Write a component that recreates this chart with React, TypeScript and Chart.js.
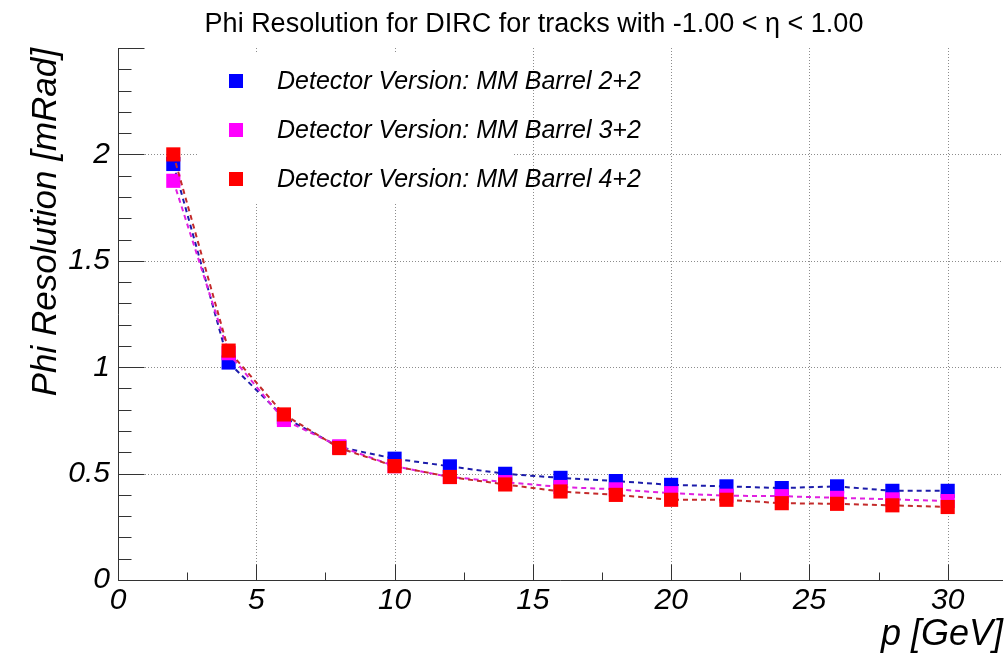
import React, { useEffect, useRef } from 'react';
import { Chart, registerables } from 'chart.js';

Chart.register(...registerables);

const TITLE = 'Phi Resolution for DIRC for tracks with -1.00 < η < 1.00';
const X_TITLE = 'p [GeV]';
const Y_TITLE = 'Phi Resolution [mRad]';

const momenta = [2, 4, 6, 8, 10, 12, 14, 16, 18, 20, 22, 24, 26, 28, 30];
const resBarrel22 = [1.955, 1.022, 0.765, 0.625, 0.57, 0.534, 0.499, 0.48, 0.465, 0.447, 0.44, 0.432, 0.44, 0.419, 0.419];
const resBarrel32 = [1.876, 1.066, 0.752, 0.628, 0.535, 0.484, 0.46, 0.437, 0.426, 0.408, 0.396, 0.394, 0.386, 0.379, 0.371];
const resBarrel42 = [2.0, 1.078, 0.778, 0.62, 0.535, 0.484, 0.449, 0.416, 0.4, 0.377, 0.377, 0.361, 0.358, 0.351, 0.343];

const seriesLabels = [
  'Detector Version: MM Barrel 2+2',
  'Detector Version: MM Barrel 3+2',
  'Detector Version: MM Barrel 4+2',
];
const seriesValues = [resBarrel22, resBarrel32, resBarrel42];

const xMajorTicks = [0, 5, 10, 15, 20, 25, 30];
const yMajorTicks = [0, 0.5, 1, 1.5, 2];

const X_MIN = 0;
const X_MAX = 32;
const Y_MIN = 0;
const Y_MAX = 2.5;

const markerColors = ['#0000ff', '#ff00ff', '#ff0000'];
const lineColors = ['#1c1caa', '#e020e0', '#c42a2a'];

const FONT = 'Liberation Sans, Arial, Helvetica, sans-serif';

const rootFrame = {
  id: 'rootFrame',
  beforeDatasetsDraw(chart: any) {
    const { ctx, chartArea: a, scales } = chart;
    const x = scales.x;
    const y = scales.y;
    ctx.save();
    // dotted grid
    ctx.strokeStyle = '#8c8c8c';
    ctx.lineWidth = 1;
    ctx.setLineDash([1, 2]);
    ctx.beginPath();
    xMajorTicks.forEach((v) => {
      if (v === X_MIN) return;
      const px = Math.round(x.getPixelForValue(v)) + 0.5;
      ctx.moveTo(px, a.top);
      ctx.lineTo(px, a.bottom);
    });
    yMajorTicks.forEach((v) => {
      if (v === Y_MIN) return;
      const py = Math.round(y.getPixelForValue(v)) + 0.5;
      ctx.moveTo(a.left, py);
      ctx.lineTo(a.right, py);
    });
    ctx.stroke();
    ctx.setLineDash([]);

    // axis lines and tick marks
    ctx.strokeStyle = '#333333';
    ctx.lineWidth = 1;
    ctx.beginPath();
    const left = Math.round(a.left) + 0.5;
    const bottom = Math.round(a.bottom) + 0.5;
    ctx.moveTo(left, a.top);
    ctx.lineTo(left, bottom);
    ctx.lineTo(a.right, bottom);
    // y ticks: major every 0.5, minor every 0.1
    for (let i = 0; i <= 25; i++) {
      const v = i / 10;
      if (v > Y_MAX) break;
      const py = Math.round(y.getPixelForValue(v)) + 0.5;
      const len = i % 5 === 0 ? 26 : 13;
      ctx.moveTo(left, py);
      ctx.lineTo(left + len, py);
    }
    // x ticks: major every 5, minor every 2.5
    for (let i = 0; i * 2.5 <= X_MAX; i++) {
      const v = i * 2.5;
      const px = Math.round(x.getPixelForValue(v)) + 0.5;
      const len = i % 2 === 0 ? 16 : 8;
      ctx.moveTo(px, bottom);
      ctx.lineTo(px, bottom - len);
    }
    ctx.stroke();

    // legend box
    ctx.fillStyle = '#ffffff';
    ctx.fillRect(197, 53, 315, 150);
    const rows = [81, 130, 179];
    ctx.font = `italic 25px ${FONT}`;
    ctx.textBaseline = 'middle';
    ctx.textAlign = 'left';
    seriesLabels.forEach((lab, i) => {
      ctx.fillStyle = markerColors[i];
      ctx.fillRect(229, rows[i] - 7, 14, 14);
      ctx.fillStyle = '#000000';
      ctx.fillText(lab, 277, rows[i] + 1);
    });

    // title
    ctx.font = `27px ${FONT}`;
    ctx.textAlign = 'center';
    ctx.fillStyle = '#000000';
    ctx.fillText(TITLE, 534, 25);
    ctx.restore();
  },
};

export default function App() {
  const ref = useRef<HTMLCanvasElement | null>(null);

  useEffect(() => {
    if (!ref.current) return;
    const orders = [2, 1, 0];
    const chart = new Chart(ref.current, {
      type: 'scatter',
      data: {
        datasets: seriesValues.map((vals, i) => ({
          label: seriesLabels[i],
          data: momenta.map((m, j) => ({ x: m, y: vals[j] })),
          showLine: true,
          borderColor: lineColors[i],
          borderWidth: 2,
          borderDash: [5, 4],
          backgroundColor: markerColors[i],
          pointStyle: 'rect',
          pointRadius: 10,
          pointHoverRadius: 10,
          pointBorderWidth: 0,
          pointBackgroundColor: markerColors[i],
          pointBorderColor: markerColors[i],
          tension: 0,
          order: orders[i],
        })),
      },
      options: {
        animation: false,
        responsive: true,
        maintainAspectRatio: false,
        events: [],
        layout: { autoPadding: false, padding: { top: 48, right: 3, bottom: 0, left: 0 } },
        plugins: {
          legend: { display: false },
          title: { display: false },
          tooltip: { enabled: false },
        },
        scales: {
          x: {
            type: 'linear',
            min: X_MIN,
            max: X_MAX,
            grid: { display: false, drawTicks: false },
            border: { display: false },
            afterBuildTicks: (scale: any) => {
              scale.ticks = xMajorTicks.map((v) => ({ value: v }));
            },
            afterFit: (scale: any) => {
              scale.height = 76;
              scale.paddingLeft = 0;
              scale.paddingRight = 0;
            },
            ticks: {
              color: '#000000',
              padding: 3,
              maxRotation: 0,
              autoSkip: false,
              font: { family: FONT, style: 'italic', size: 30 },
              callback: (v: any) => String(v),
            },
            title: {
              display: true,
              text: X_TITLE,
              align: 'end',
              color: '#000000',
              font: { family: FONT, style: 'italic', size: 36, lineHeight: 1 },
              padding: { top: 0, bottom: 3 },
            },
          },
          y: {
            type: 'linear',
            min: Y_MIN,
            max: Y_MAX,
            grid: { display: false, drawTicks: false },
            border: { display: false },
            afterBuildTicks: (scale: any) => {
              scale.ticks = yMajorTicks.map((v) => ({ value: v }));
            },
            afterFit: (scale: any) => {
              scale.width = 118;
              scale.paddingTop = 0;
              scale.paddingBottom = 0;
            },
            ticks: {
              color: '#000000',
              padding: 8,
              autoSkip: false,
              font: { family: FONT, style: 'italic', size: 30 },
              callback: (v: any) => String(v),
            },
            title: {
              display: true,
              text: Y_TITLE,
              align: 'end',
              color: '#000000',
              font: { family: FONT, style: 'italic', size: 35, lineHeight: 1 },
              padding: { top: 29, bottom: 0 },
            },
          },
        },
      },
      plugins: [rootFrame],
    });
    return () => chart.destroy();
  }, []);

  return (
    <div
      style={{
        position: 'fixed',
        left: 0,
        top: 0,
        width: 1006,
        height: 656,
        background: '#ffffff',
      }}
    >
      <canvas ref={ref} />
    </div>
  );
}
